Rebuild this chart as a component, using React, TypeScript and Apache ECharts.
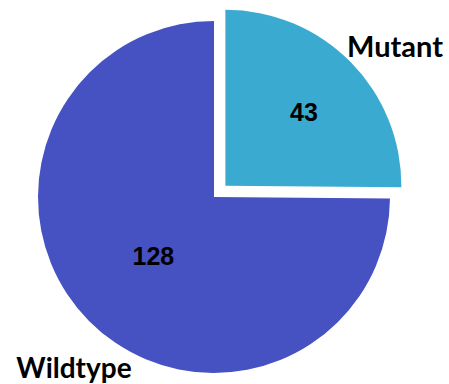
import React, { useEffect, useRef } from "react";
import * as echarts from "echarts";

const categories = ["Mutant", "Wildtype"];
const values = [43, 128];
const colors = ["#3AAAD0", "#4651C2"];

export default function App() {
  const ref = useRef<HTMLDivElement>(null);
  useEffect(() => {
    document.body.style.margin = "0";
    const chart = echarts.init(ref.current!, null, { renderer: "svg" });
    chart.setOption({
      animation: false,
      backgroundColor: "#ffffff",
      series: [
        {
          type: "pie",
          center: [214, 197],
          radius: [0, 176],
          startAngle: 90,
          clockwise: true,
          selectedMode: "single",
          selectedOffset: 16,
          silent: true,
          label: {
            show: true,
            position: "inside",
            formatter: "{c}",
            color: "#000",
            fontFamily: "'Liberation Sans', Arial, sans-serif",
            fontWeight: "bold",
            fontSize: 25,
          },
          labelLine: { show: false },
          labelLayout: (p: any) =>
            p.dataIndex === 0 ? { dx: 14, dy: -10 } : { dx: 4, dy: -5 },
          data: categories.map((name, i) => ({
            name,
            value: values[i],
            selected: i === 0,
            itemStyle: { color: colors[i] },
          })),
        },
      ],
      graphic: [
        {
          type: "text",
          x: 395,
          y: 45,
          style: {
            text: categories[0],
            fill: "#000",
            font: "bold 29px Lato, sans-serif",
            textAlign: "center",
            textVerticalAlign: "middle",
          },
        },
        {
          type: "text",
          x: 74,
          y: 367,
          style: {
            text: categories[1],
            fill: "#000",
            font: "bold 28px Lato, sans-serif",
            textAlign: "center",
            textVerticalAlign: "middle",
          },
        },
      ],
    });
    return () => chart.dispose();
  }, []);
  return <div ref={ref} style={{ width: 449, height: 384 }} />;
}
